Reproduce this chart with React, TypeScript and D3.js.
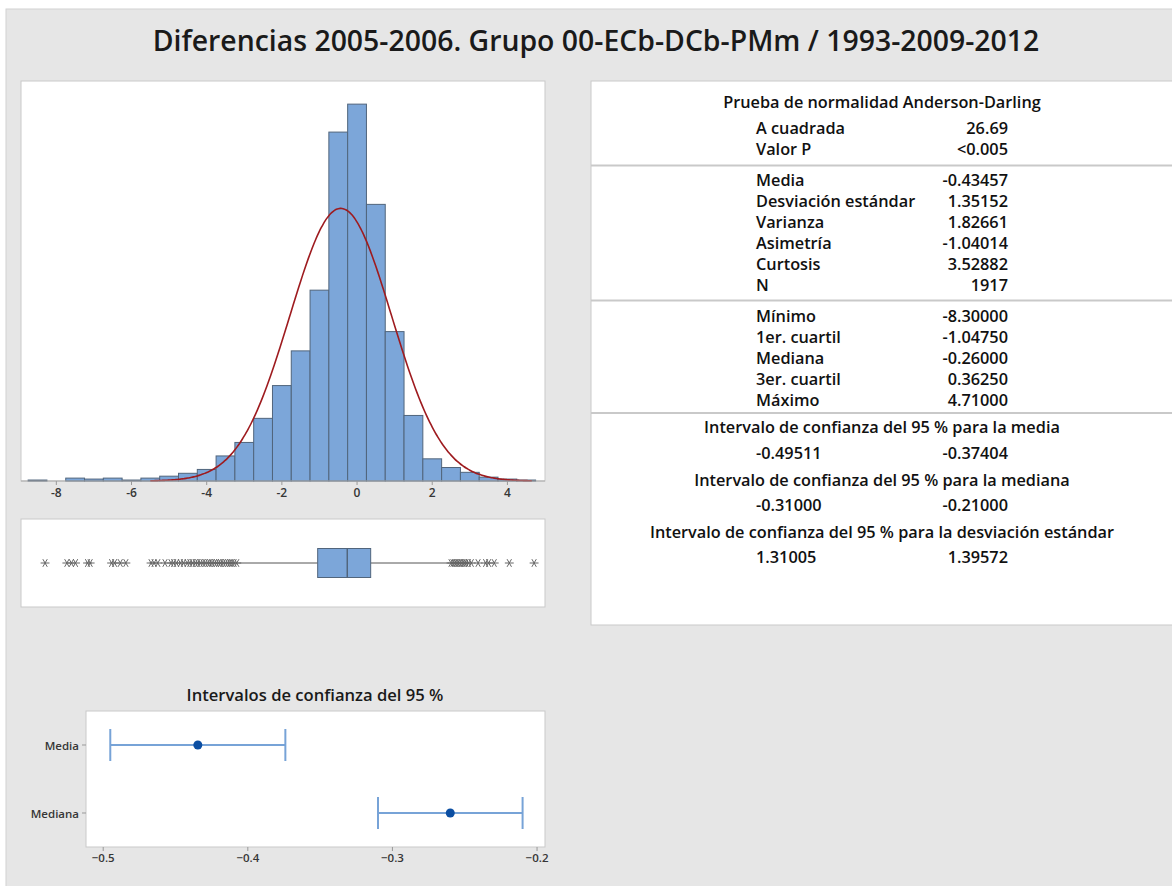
import React from 'react';
import * as d3 from 'd3';

const W = 1172;
const H = 886;
const FONT = "'Open Sans', 'Noto Sans', sans-serif";

// histogram (bin centres, width 0.5)
const binCenters = [-8.5, -8, -7.5, -7, -6.5, -6, -5.5, -5, -4.5, -4, -3.5, -3, -2.5, -2, -1.5, -1, -0.5, 0, 0.5, 1, 1.5, 2, 2.5, 3, 3.5, 4, 4.5];
const binCounts = [1, 0, 3, 2, 3, 1, 3, 5, 8, 12, 26, 40, 65, 99, 135, 198, 362, 391, 287, 155, 68, 23, 14, 9, 4, 2, 1];
const binWidth = 0.5;
const histTicks = [-8, -6, -4, -2, 0, 2, 4];

// summary
const mean = -0.43457;
const sd = 1.35152;
const n = 1917;
const q1 = -1.0475;
const median = -0.26;
const q3 = 0.3625;
const whiskerLow = -3.15;
const whiskerHigh = 2.45;
const outliersLow = [-8.3, -7.72, -7.6, -7.49, -7.17, -7.1, -6.53, -6.45, -6.3, -6.15, -5.48, -5.4, -5.3, -5.11, -4.95, -4.88, -4.8, -4.7, -4.62, -4.52, -4.45, -4.38, -4.3, -4.24, -4.17, -4.1, -4.04, -3.97, -3.92, -3.86, -3.79, -3.74, -3.68, -3.63, -3.56, -3.5, -3.44, -3.38, -3.33, -3.27, -3.2];
const outliersHigh = [2.5, 2.55, 2.6, 2.64, 2.68, 2.72, 2.77, 2.82, 2.86, 2.9, 2.96, 3.04, 3.22, 3.42, 3.5, 3.65, 4.05, 4.71];

// confidence interval plot
const ciRows = ['Media', 'Mediana'];
const ciLower = [-0.49511, -0.31];
const ciUpper = [-0.37404, -0.21];
const ciEstimate = [-0.43457, -0.26];
const ciTicks = [-0.5, -0.4, -0.3, -0.2];

// stats table
const adLabels = ['A cuadrada', 'Valor P'];
const adValues = ['26.69', '<0.005'];
const momentLabels = ['Media', 'Desviación estándar', 'Varianza', 'Asimetría', 'Curtosis', 'N'];
const momentValues = ['-0.43457', '1.35152', '1.82661', '-1.04014', '3.52882', '1917'];
const quantLabels = ['Mínimo', '1er. cuartil', 'Mediana', '3er. cuartil', 'Máximo'];
const quantValues = ['-8.30000', '-1.04750', '-0.26000', '0.36250', '4.71000'];
const ciTitles = [
  'Intervalo de confianza del 95 % para la media',
  'Intervalo de confianza del 95 % para la mediana',
  'Intervalo de confianza del 95 % para la desviación estándar',
];
const ciLows = ['-0.49511', '-0.31000', '1.31005'];
const ciHighs = ['-0.37404', '-0.21000', '1.39572'];

const BORDER = '#c9c9c9';
const TICK_TXT = '#363636';

const App = () => {
  // histogram panel
  const hist = { left: 21, right: 545, top: 81, bottom: 481 };
  const x = d3.scaleLinear().domain([-8.94, 5.0]).range([hist.left, hist.right]);
  const y = d3.scaleLinear().domain([0, 415]).range([hist.bottom, hist.top]);

  const scaleK = n * binWidth / (sd * Math.sqrt(2 * Math.PI));
  const curveX = d3.range(-5.5, 4.66, 0.05);
  const curve = d3.line<number>()
    .x(d => x(d))
    .y(d => y(scaleK * Math.exp(-0.5 * ((d - mean) / sd) ** 2)))
    .curve(d3.curveBasis)(curveX);

  // boxplot panel
  const box = { top: 519, bottom: 607, cy: 563, h: 29 };
  const star = d3.symbol(d3.symbolAsterisk, 55)();

  // CI panel
  const ci = { left: 86, right: 545, top: 711, bottom: 847 };
  const cx = d3.scaleLinear().domain([-0.5119, -0.1945]).range([ci.left, ci.right]);
  const cy = d3.scalePoint<string>().domain(ciRows).range([745, 813]);

  // stats panel layout
  const sLabelX = 756;
  const sValueX = 1008;
  const sCenter = 882;
  const sFont = 16.3;

  const rowText = (labels: string[], values: string[], y0: number, step: number) =>
    labels.map((l, i) => (
      <g key={l} fontSize={sFont} fontWeight={600} fill="#111" dominantBaseline="central">
        <text x={sLabelX} y={y0 + i * step}>{l}</text>
        <text x={sValueX} y={y0 + i * step} textAnchor="end">{values[i]}</text>
      </g>
    ));

  return (
    <svg width={W} height={H} style={{ position: 'absolute', left: 0, top: 0 }} fontFamily={FONT}>
      <rect x={0} y={0} width={W} height={H} fill="#fff" />
      <rect x={6} y={9} width={W} height={H} fill="#e6e6e6" stroke="#d2d2d2" />

      <text x={596} y={40} textAnchor="middle" dominantBaseline="central" fontSize={28.4} fontWeight={600} fill="#1a1a1a">
        Diferencias 2005-2006. Grupo 00-ECb-DCb-PMm / 1993-2009-2012
      </text>

      {/* histogram */}
      <rect x={hist.left} y={hist.top} width={hist.right - hist.left} height={hist.bottom - hist.top} fill="#fff" stroke={BORDER} />
      {binCenters.map((c, i) => binCounts[i] > 0 && (
        <rect key={c}
          x={x(c - binWidth / 2)} y={y(binCounts[i])}
          width={x(c + binWidth / 2) - x(c - binWidth / 2)}
          height={y(0) - y(binCounts[i])}
          fill="#7ca6d9" stroke="#51657c" strokeWidth={1} />
      ))}
      <path d={curve || ''} fill="none" stroke="#9e1b1f" strokeWidth={1.6} />
      <line x1={hist.left} x2={hist.right} y1={hist.bottom} y2={hist.bottom} stroke="#a9a9a9" />
      {histTicks.map(t => (
        <g key={t}>
          <line x1={x(t)} x2={x(t)} y1={hist.bottom} y2={hist.bottom + 4} stroke="#999" />
          <text x={x(t)} y={492} textAnchor="middle" dominantBaseline="central" fontSize={12} fontWeight={600} fill={TICK_TXT}>{t}</text>
        </g>
      ))}

      {/* boxplot */}
      <rect x={hist.left} y={box.top} width={hist.right - hist.left} height={box.bottom - box.top} fill="#fff" stroke={BORDER} />
      <line x1={x(whiskerLow)} x2={x(q1)} y1={box.cy} y2={box.cy} stroke="#555" />
      <line x1={x(q3)} x2={x(whiskerHigh)} y1={box.cy} y2={box.cy} stroke="#555" />
      <rect x={x(q1)} y={box.cy - box.h / 2} width={x(q3) - x(q1)} height={box.h} fill="#7ca6d9" stroke="#51657c" />
      <line x1={x(median)} x2={x(median)} y1={box.cy - box.h / 2} y2={box.cy + box.h / 2} stroke="#51657c" strokeWidth={1.5} />
      {[...outliersLow, ...outliersHigh].map((v, i) => (
        <path key={i} d={star || ''} transform={`translate(${x(v)},${box.cy}) rotate(90)`} fill="none" stroke="#666" strokeWidth={1} />
      ))}

      {/* CI plot */}
      <text x={315} y={694} textAnchor="middle" dominantBaseline="central" fontSize={16.6} fontWeight={600} fill="#1a1a1a">
        Intervalos de confianza del 95 %
      </text>
      <rect x={ci.left} y={ci.top} width={ci.right - ci.left} height={ci.bottom - ci.top} fill="#fff" stroke={BORDER} />
      {ciTicks.map(t => (
        <g key={t}>
          <line x1={cx(t)} x2={cx(t)} y1={ci.bottom} y2={ci.bottom + 4} stroke="#999" />
          <text x={cx(t)} y={857} textAnchor="middle" dominantBaseline="central" fontSize={11.5} fontWeight={600} fill={TICK_TXT}>{d3.format('.1f')(t)}</text>
        </g>
      ))}
      {ciRows.map((r, i) => {
        const yy = cy(r) as number;
        return (
          <g key={r}>
            <line x1={ci.left - 4} x2={ci.left} y1={yy} y2={yy} stroke="#999" />
            <text x={79} y={yy} textAnchor="end" dominantBaseline="central" fontSize={11.5} fontWeight={600} fill={TICK_TXT}>{r}</text>
            <line x1={cx(ciLower[i])} x2={cx(ciUpper[i])} y1={yy} y2={yy} stroke="#77a3d7" strokeWidth={2} />
            <line x1={cx(ciLower[i])} x2={cx(ciLower[i])} y1={yy - 16} y2={yy + 16} stroke="#77a3d7" strokeWidth={2} />
            <line x1={cx(ciUpper[i])} x2={cx(ciUpper[i])} y1={yy - 16} y2={yy + 16} stroke="#77a3d7" strokeWidth={2} />
            <circle cx={cx(ciEstimate[i])} cy={yy} r={4.5} fill="#0b4ea2" />
          </g>
        );
      })}

      {/* stats table */}
      <rect x={591} y={81} width={W} height={544} fill="#fff" stroke={BORDER} />
      <text x={sCenter} y={101.7} textAnchor="middle" dominantBaseline="central" fontSize={sFont} fontWeight={600} fill="#111">
        Prueba de normalidad Anderson-Darling
      </text>
      {rowText(adLabels, adValues, 128.3, 20.4)}
      <line x1={591} x2={W} y1={165.5} y2={165.5} stroke={BORDER} strokeWidth={2} />
      {rowText(momentLabels, momentValues, 180, 20.9)}
      <line x1={591} x2={W} y1={300.5} y2={300.5} stroke={BORDER} strokeWidth={2} />
      {rowText(quantLabels, quantValues, 316, 21.1)}
      <line x1={591} x2={W} y1={413} y2={413} stroke={BORDER} strokeWidth={2} />
      {ciTitles.map((t, i) => (
        <g key={t} fontSize={sFont} fontWeight={600} fill="#111" dominantBaseline="central">
          <text x={sCenter} y={427.3 + i * 52.2} textAnchor="middle">{t}</text>
          <text x={sLabelX} y={452.7 + i * 52.2}>{ciLows[i]}</text>
          <text x={sValueX} y={452.7 + i * 52.2} textAnchor="end">{ciHighs[i]}</text>
        </g>
      ))}
    </svg>
  );
};

export default App;
